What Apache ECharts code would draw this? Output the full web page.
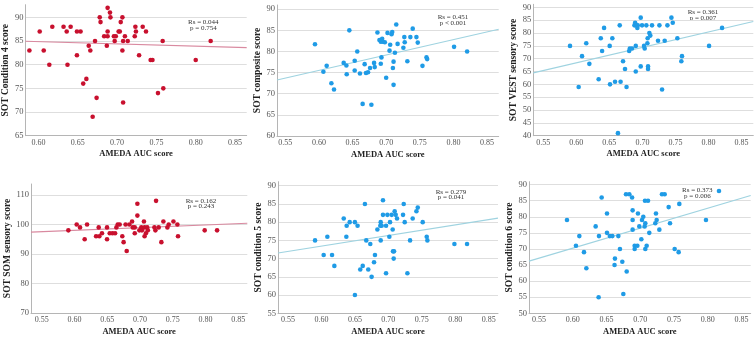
<!DOCTYPE html>
<html><head><meta charset="utf-8">
<script src="https://cdn.jsdelivr.net/npm/echarts@6/dist/echarts.min.js"></script>
<style>html,body{margin:0;padding:0;background:#fff}#c{width:756px;height:338px}</style>
</head><body><div id="c"></div>
<script>
// ---------- data ----------
const xTicksP1 = [0.60, 0.65, 0.70, 0.75, 0.80, 0.85];
const xTicks = [0.55, 0.60, 0.65, 0.70, 0.75, 0.80, 0.85];

const p1X = [0.5886,0.6017,0.6068,0.6139,0.6177,0.632,0.636,0.637,0.641,0.649,0.649,0.6536,0.657,0.661,0.664,0.666,0.669,0.672,0.674,0.678,0.679,0.6836,0.687,0.688,0.688,0.688,0.691,0.6916,0.696,0.697,0.6984,0.702,0.7035,0.7047,0.7068,0.7068,0.7077,0.7077,0.71,0.7136,0.7225,0.7233,0.724,0.728,0.7326,0.7368,0.7427,0.745,0.752,0.758,0.7588,0.80,0.819];
const p1Y = [83,87,83,80,88,88,87,80,88,82,87,87,76,77,84,83,69,85,73,90,89,86,84,92,87,86,91,90,86,85,86,87,87,89,90,83,85,72,86,85,86,88,87,82,88,87,81,81,74,85,75,81,85];

const p2X = [0.5941,0.6066,0.6115,0.6185,0.6224,0.6368,0.6408,0.6413,0.6452,0.6532,0.6532,0.657,0.661,0.665,0.668,0.670,0.673,0.676,0.678,0.682,0.683,0.687,0.690,0.692,0.693,0.692,0.694,0.695,0.698,0.700,0.702,0.705,0.706,0.708,0.709,0.710,0.711,0.711,0.713,0.715,0.717,0.7256,0.727,0.7276,0.7315,0.736,0.7395,0.745,0.747,0.754,0.760,0.761,0.801,0.8204];
const p2Y = [81.7,75.2,76.6,72.5,71.0,77.3,76.7,74.6,85.0,77.8,75.5,80.0,74.8,67.6,77.0,74.9,75.1,76.1,67.4,77.3,76.3,84.5,82.7,82.3,78.6,77.1,83.0,82.3,82.2,73.8,84.4,80.2,81.6,84.1,84.6,76.1,77.6,72.1,79.7,86.4,81.8,80.9,83.4,82.2,77.7,83.4,85.4,83.4,82.1,76.6,78.6,78.2,81.1,80.0];

const p3X = [0.5904,0.6035,0.6086,0.615,0.6197,0.6338,0.637,0.639,0.642,0.6505,0.651,0.6545,0.6586,0.663,0.6657,0.667,0.6707,0.6737,0.676,0.680,0.681,0.6843,0.688,0.689,0.690,0.690,0.6914,0.6924,0.693,0.6975,0.6975,0.6995,0.7025,0.7035,0.706,0.7076,0.708,0.7086,0.7086,0.7106,0.712,0.7146,0.7237,0.7258,0.7298,0.7338,0.7379,0.744,0.746,0.753,0.759,0.760,0.801,0.8207];
const p3Y = [75,59,71,76,68,62,78,73,82,75,60,78,61,41,83,61,69,66,59,73,74,74,83,84,75,65,83,82,83,86,67,83,75,74,83,76,78,67,66,80,79,83,77,83,58,77,83,86,84,78,69,71,75,82];

const p4X = [0.5907,0.6034,0.6085,0.6156,0.6192,0.633,0.637,0.638,0.642,0.6497,0.6497,0.6538,0.658,0.662,0.664,0.666,0.669,0.673,0.675,0.678,0.6797,0.6838,0.6879,0.689,0.692,0.692,0.696,0.696,0.699,0.702,0.703,0.706,0.707,0.707,0.709,0.711,0.712,0.722,0.7235,0.7245,0.7285,0.7326,0.7357,0.7418,0.7438,0.751,0.757,0.758,0.7987,0.8176];
const p4Y = [98,100,99,95,100,96,99,96,97,99,95,97,97,97,99,100,100,96,94,100,91,100,101,99,97,99,107,103,98,99,98,101,99,96,97,99,98,99,98,108,99,94,101,99,100,101,100,96,98,98];

const p5X = [0.5904,0.6033,0.6088,0.6158,0.6193,0.6333,0.6377,0.6372,0.6422,0.650,0.650,0.654,0.658,0.6617,0.665,0.667,0.670,0.673,0.675,0.6786,0.680,0.6836,0.6886,0.688,0.6886,0.690,0.692,0.692,0.6966,0.6966,0.6986,0.7015,0.7025,0.705,0.7065,0.707,0.708,0.7085,0.7095,0.711,0.713,0.722,0.723,0.7245,0.7285,0.7325,0.7364,0.742,0.744,0.7514,0.7574,0.7584,0.7988,0.8177];
const p5Y = [75,71,76,71,68,81,79,76,80,80,60,79,67,68,85,75,67,74,65,69,71,78,80,79,75,79,86,82,79,66,82,76,80,82,78,72,70,72,83,82,81,82,85,80,66,75,81,83,84,80,76,75,74,74];

const p6X = [0.5915,0.6048,0.6098,0.6167,0.6202,0.634,0.6389,0.6384,0.6429,0.6508,0.6508,0.655,0.6587,0.6626,0.662,0.6676,0.670,0.6735,0.675,0.679,0.680,0.6839,0.688,0.6888,0.6888,0.6888,0.6918,0.6918,0.6958,0.6967,0.6987,0.7017,0.7027,0.7046,0.7066,0.7076,0.7071,0.7076,0.7096,0.7116,0.7135,0.7224,0.7234,0.7244,0.7284,0.7323,0.7363,0.7422,0.7442,0.7511,0.757,0.758,0.7975,0.8168];
const p6Y = [79,71,74,69,64,77,74,55,86,81,75,74,74,67,65,74,70,66,56,87,63,87,86,82,79,76,71,70,71,81,77,73,79,80,77,78,85,70,71,85,75,78,81,79,76,87,87,83,78,70,69,84,79,88];

// regression line end points [x0, x1], [y0, y1]
const fitX = [[0.5835,0.8648],[0.5376,0.8674],[0.5348,0.868],[0.5337,0.8637],[0.535,0.864],[0.5352,0.8638]];
const fitY = [[84.95,83.6],[73.25,85.26],[64.5,84.5],[97.4,100.4],[71.55,81.1],[66.2,86.6]];

const yNames = ['SOT Condition 4 score','SOT composite score','SOT VEST sensory score','SOT SOM sensory score','SOT condition 5 score','SOT condition 6 score'];
const statRs = ['Rs = 0.044','Rs = 0.451','Rs = 0.361','Rs = 0.162','Rs = 0.279','Rs = 0.373'];
const statP = ['p = 0.754','p < 0.001','p = 0.007','p = 0.243','p = 0.041','p = 0.006'];
const xName = 'AMEDA AUC score';

// ---------- layout ----------
const RED = '#c8102e', RED_LINE = '#d98aa0', BLUE = '#1f9be6', BLUE_LINE = '#9fd3e0';
const L = [
  {l:24.7,t:4.7,r:246.7,b:135.7,x0:0.5835,x1:0.8648,y0:65,y1:92.67,yi:5,ticks:xTicksP1,dot:RED,line:RED_LINE,gap:10.5,sx:203.3,sy:22.3},
  {l:277,t:5,r:498.7,b:136,x0:0.5376,x1:0.8674,y0:60,y1:91,yi:5,ticks:xTicks,dot:BLUE,line:BLUE_LINE,gap:12.5,sx:453,sy:17.3},
  {l:533.3,t:4.3,r:753.3,b:135.7,x0:0.5348,x1:0.868,y0:40,y1:91.2,yi:5,ticks:xTicks,dot:BLUE,line:BLUE_LINE,gap:14,sx:703,sy:12.3},
  {l:31,t:184,r:247.3,b:313,x0:0.5337,x1:0.8637,y0:70,y1:113.7,yi:10,ticks:xTicks,dot:RED,line:RED_LINE,gap:16,sx:201,sy:200.7},
  {l:278,t:181.7,r:498,b:313.3,x0:0.535,x1:0.864,y0:55,y1:91.1,yi:5,ticks:xTicks,dot:BLUE,line:BLUE_LINE,gap:13.5,sx:451,sy:191.7},
  {l:529,t:181.7,r:750.7,b:313.3,x0:0.5352,x1:0.8638,y0:50,y1:90.9,yi:5,ticks:xTicks,dot:BLUE,line:BLUE_LINE,gap:12.5,sx:697.3,sy:190.3}
];
const PX = [p1X,p2X,p3X,p4X,p5X,p6X], PY = [p1Y,p2Y,p3Y,p4Y,p5Y,p6Y];
const FONT = '"Liberation Serif", "Times New Roman", serif';

const grid = [], xAxis = [], yAxis = [], series = [], graphic = [];
L.forEach((g, i) => {
  grid.push({left:g.l, top:g.t, width:g.r-g.l, height:g.b-g.t, containLabel:false});
  xAxis.push({
    type:'value', gridIndex:i, min:g.x0, max:g.x1,
    axisLine:{show:true, lineStyle:{color:'#b5b5b5', width:1}},
    axisTick:{show:false}, splitLine:{show:false},
    axisLabel:{customValues:g.ticks, formatter:v=>v.toFixed(2), fontFamily:FONT, fontSize:8, color:'#555', margin:3},
    name:xName, nameLocation:'middle', nameGap:14,
    nameTextStyle:{fontFamily:FONT, fontWeight:'bold', fontSize:8.5, color:'#222'}
  });
  yAxis.push({
    type:'value', gridIndex:i, min:g.y0, max:g.y1, interval:g.yi,
    axisLine:{show:true, lineStyle:{color:'#b5b5b5', width:1}},
    axisTick:{show:false},
    splitLine:{show:true, showMinLine:false, showMaxLine:false, lineStyle:{color:'#dedede', width:1}},
    axisLabel:{showMaxLabel:false, fontFamily:FONT, fontSize:8.5, color:'#555', margin:2},
    name:yNames[i], nameLocation:'middle', nameGap:g.gap, nameRotate:90,
    nameTextStyle:{fontFamily:FONT, fontWeight:'bold', fontSize:9.5, color:'#222'}
  });
  series.push({
    type:'line', xAxisIndex:i, yAxisIndex:i, symbol:'none', silent:true,
    data:[[fitX[i][0], fitY[i][0]],[fitX[i][1], fitY[i][1]]],
    lineStyle:{color:g.line, width:1.2}, z:2
  });
  series.push({
    type:'scatter', xAxisIndex:i, yAxisIndex:i, symbolSize:4.6,
    data:PX[i].map((x,k)=>[x, PY[i][k]]),
    itemStyle:{color:g.dot, opacity:1}, z:3
  });
  graphic.push({type:'text', x:g.sx, y:g.sy, style:{text:statRs[i], x:0, y:0, align:'center', verticalAlign:'middle', font:'7px '+FONT, fill:'#333'}});
  graphic.push({type:'text', x:g.sx, y:g.sy+5.8, style:{text:statP[i], x:0, y:0, align:'center', verticalAlign:'middle', font:'7px '+FONT, fill:'#333'}});
});

const chart = echarts.init(document.getElementById('c'), null, {renderer:'canvas'});
chart.setOption({animation:false, backgroundColor:'#fff', grid, xAxis, yAxis, series, graphic});
</script>
</body></html>
